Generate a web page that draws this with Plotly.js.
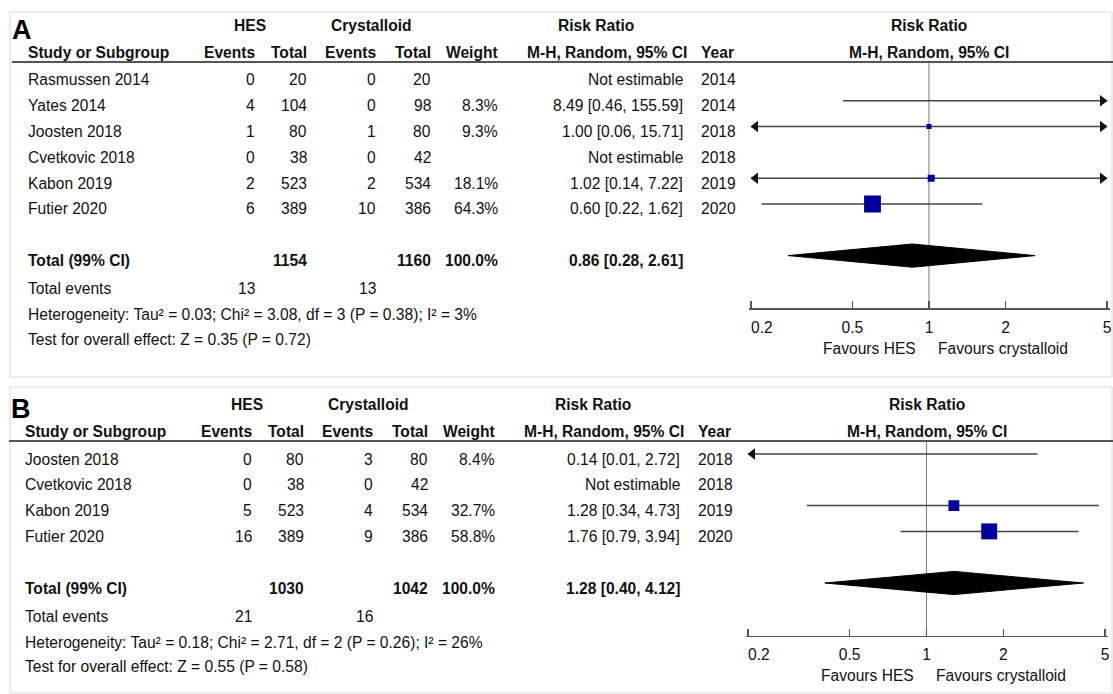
<!DOCTYPE html>
<html>
<head>
<meta charset="utf-8">
<script src="https://cdn.plot.ly/plotly-3.0.1.min.js"></script>
<style>html,body{margin:0;padding:0;background:#fff}#chart{width:1113px;height:694px}</style>
</head>
<body>
<div id="chart"></div>
<script>
// ================= DATA =================
// Panel A
const studiesA   = ['Rasmussen 2014','Yates 2014','Joosten 2018','Cvetkovic 2018','Kabon 2019','Futier 2020'];
const hesEventsA = [0, 4, 1, 0, 2, 6];
const hesTotalA  = [20, 104, 80, 38, 523, 389];
const cryEventsA = [0, 0, 1, 0, 2, 10];
const cryTotalA  = [20, 98, 80, 42, 534, 386];
const weightA    = [null, 8.3, 9.3, null, 18.1, 64.3];
const rrA        = [null, 8.49, 1.00, null, 1.02, 0.60];
const loA        = [null, 0.46, 0.06, null, 0.14, 0.22];
const hiA        = [null, 155.59, 15.71, null, 7.22, 1.62];
const yearA      = [2014, 2014, 2018, 2018, 2019, 2020];
const totalsA    = [1154, 1160, 100.0];          // HES total, crystalloid total, weight
const pooledA    = [0.86, 0.28, 2.61];           // RR, lower, upper
const eventsA    = [13, 13];                     // total events HES, crystalloid
const hetA       = 'Heterogeneity: Tau² = 0.03; Chi² = 3.08, df = 3 (P = 0.38); I² = 3%';
const testA      = 'Test for overall effect: Z = 0.35 (P = 0.72)';

// Panel B
const studiesB   = ['Joosten 2018','Cvetkovic 2018','Kabon 2019','Futier 2020'];
const hesEventsB = [0, 0, 5, 16];
const hesTotalB  = [80, 38, 523, 389];
const cryEventsB = [3, 0, 4, 9];
const cryTotalB  = [80, 42, 534, 386];
const weightB    = [8.4, null, 32.7, 58.8];
const rrB        = [0.14, null, 1.28, 1.76];
const loB        = [0.01, null, 0.34, 0.79];
const hiB        = [2.72, null, 4.73, 3.94];
const yearB      = [2018, 2018, 2019, 2020];
const totalsB    = [1030, 1042, 100.0];
const pooledB    = [1.28, 0.40, 4.12];
const eventsB    = [21, 16];
const hetB       = 'Heterogeneity: Tau² = 0.18; Chi² = 2.71, df = 2 (P = 0.26); I² = 26%';
const testB      = 'Test for overall effect: Z = 0.55 (P = 0.58)';

// Labels
const groupLabels  = ['HES', 'Crystalloid'];
const colHeaders   = ['Study or Subgroup','Events','Total','Events','Total','Weight','M-H, Random, 95% CI','Year'];
const rrTitle      = 'Risk Ratio';
const rrSubtitle   = 'M-H, Random, 95% CI';
const totalLabel   = 'Total (99% CI)';
const eventsLabel  = 'Total events';
const favourLabels = ['Favours HES', 'Favours crystalloid'];
const tickVals     = [0.2, 0.5, 1, 2, 5];
const tickText     = ['0.2', '0.5', '1', '2', '5'];

// ================= LAYOUT CONSTANTS =================
const W = 1113, H = 694, ROW = 25.8, TXT_SHIFT = -5;
const FONT = 'Arial, "Liberation Sans", sans-serif';
const FS = 15.6, TC = '#111';
const COL = {name:27, hesEv:256, hesTot:308, cryEv:377, cryTot:432, weight:499, rr:684, rrHead:688, year:700,
             hesGroup:250, cryGroup:371, rrGroup:596};
const END_PAD = 2.5;   // px of axis beyond the outer ticks

const panels = [
  {letter:'A', xa:'x', ya:'y', xk:'xaxis', yk:'yaxis', top:12, bottom:377, row0:75, dx:0, plotL:751, plotR:1107,
   studies:studiesA, hesEv:hesEventsA, hesTot:hesTotalA, cryEv:cryEventsA, cryTot:cryTotalA, w:weightA,
   rr:rrA, lo:loA, hi:hiA, year:yearA, totals:totalsA, pooled:pooledA, events:eventsA, het:hetA, test:testA},
  {letter:'B', xa:'x2', ya:'y2', xk:'xaxis2', yk:'yaxis2', top:387, bottom:693, row0:454, dx:-3, plotL:748, plotR:1105,
   studies:studiesB, hesEv:hesEventsB, hesTot:hesTotalB, cryEv:cryEventsB, cryTot:cryTotalB, w:weightB,
   rr:rrB, lo:loB, hi:hiB, year:yearB, totals:totalsB, pooled:pooledB, events:eventsB, het:hetB, test:testB}
];

const fmt2 = v => v.toFixed(2);
const xMin = tickVals[0], xMax = tickVals[tickVals.length - 1];
const nb = k => '\u00a0'.repeat(k);
const tickTextPadded = tickText.map((t, i) => i === 0 ? nb(5) + t : t);

const traces = [];
const annotations = [];
const shapes = [];
const layout = {
  width: W, height: H, margin: {l:0, r:0, t:0, b:0, pad:0},
  paper_bgcolor: '#fff', plot_bgcolor: 'rgba(0,0,0,0)', showlegend: false,
  font: {family: FONT, size: FS, color: TC}
};

panels.forEach(p => {
  const n = p.studies.length;
  const rTop = (p.top - p.row0) / ROW;
  const rBot = (p.bottom - p.row0) / ROW;
  const axisRow = n + 3.05;
  const axisPaper = 1 - (p.row0 + axisRow * ROW) / H;
  const totalRow = n + 1;
  const pxPerDecade = (p.plotR - p.plotL) / (Math.log10(xMax) - Math.log10(xMin));
  const padDec = END_PAD / pxPerDecade;
  const arrowFactor = Math.pow(10, 4.5 / pxPerDecade);

  layout[p.xk] = {
    type: 'log', domain: [(p.plotL - END_PAD) / W, (p.plotR + END_PAD) / W],
    range: [Math.log10(xMin) - padDec, Math.log10(xMax) + padDec],
    anchor: 'free', position: axisPaper,
    tickvals: tickVals, ticktext: tickTextPadded, ticks: 'inside', ticklen: 7, tickwidth: 1.3, tickcolor: '#555',
    showline: true, linecolor: '#555', linewidth: 1.5, showgrid: false, zeroline: false,
    ticklabeloverflow: 'allow',
    tickfont: {family: FONT, size: FS, color: TC}, ticklabelstandoff: 4, fixedrange: true
  };
  layout[p.yk] = {domain: [1 - p.bottom / H, 1 - p.top / H], range: [rBot, rTop], visible: false,
                  showgrid: false, zeroline: false, fixedrange: true, anchor: p.xa};

  // panel frame
  shapes.push({type:'rect', xref:'paper', yref:'paper', x0: 10 / W, x1: 1112 / W,
               y0: 1 - p.bottom / H, y1: 1 - p.top / H, line:{color:'#dedede', width:1.2}, layer:'below'});
  // header underline
  shapes.push({type:'line', xref:'paper', yref:p.ya, x0: (12 + p.dx) / W, x1: 1, y0: -0.5, y1: -0.5,
               line:{color:'#555', width:2}});

  // reference line at RR = 1
  traces.push({type:'scatter', mode:'lines', x:[1, 1], y:[-0.5, axisRow], xaxis:p.xa, yaxis:p.ya,
               line:{color:'#808080', width:1.1}, hoverinfo:'skip'});

  // CI lines (clipped to the tick range; arrows mark the overflow)
  const cx = [], cy = [];
  p.lo.forEach((lo, i) => {
    if (lo !== null) { cx.push(Math.max(lo, xMin), Math.min(p.hi[i], xMax), null); cy.push(i, i, null); }
  });
  traces.push({type:'scatter', mode:'lines', x:cx, y:cy, xaxis:p.xa, yaxis:p.ya,
               line:{color:'#444', width:1.5}, hoverinfo:'skip'});

  // arrow heads for CIs beyond the axis
  const ax = [], ay = [], as = [];
  p.lo.forEach((lo, i) => {
    if (lo === null) return;
    if (lo < xMin) { ax.push(xMin * arrowFactor); ay.push(i); as.push('triangle-left'); }
    if (p.hi[i] > xMax) { ax.push(xMax / arrowFactor); ay.push(i); as.push('triangle-right'); }
  });
  traces.push({type:'scatter', mode:'markers', x:ax, y:ay, xaxis:p.xa, yaxis:p.ya, cliponaxis:false,
               marker:{symbol:as, size:10, color:'#111', opacity:1, line:{width:0}}, hoverinfo:'skip'});

  // squares
  const sx = [], sy = [], ss = [];
  p.rr.forEach((v, i) => { if (v !== null) { sx.push(v); sy.push(i); ss.push(Math.max(5, 2.6 * Math.sqrt(p.w[i]) - 4)); } });
  traces.push({type:'scatter', mode:'markers', x:sx, y:sy, xaxis:p.xa, yaxis:p.ya,
               marker:{symbol:'square', size:ss, color:'#00009c', opacity:1, line:{width:0}}, hoverinfo:'skip'});

  // pooled diamond
  const [est, plo, phi] = p.pooled;
  const h = 0.45;
  traces.push({type:'scatter', mode:'lines', x:[plo, est, phi, est, plo], y:[totalRow, totalRow - h, totalRow, totalRow + h, totalRow],
               xaxis:p.xa, yaxis:p.ya, fill:'toself', fillcolor:'#000', line:{color:'#000', width:1}, hoverinfo:'skip'});

  // ---------- table text ----------
  const T = (xpx, r, text, xanchor, extra) => annotations.push(Object.assign({
    xref:'paper', yref:p.ya, x:(xpx + p.dx) / W, y:r, text:text, xanchor:xanchor, yanchor:'middle',
    showarrow:false, yshift:TXT_SHIFT, borderpad:0, font:{family:FONT, size:FS, color:TC}}, extra || {}));
  const b = s => '<b>' + s + '</b>';

  // panel letter
  annotations.push({xref:'paper', yref:p.ya, x:(11 + p.dx * 0.3) / W, y:-1.75, text:'<b>' + p.letter + '</b>',
                    xanchor:'left', yanchor:'middle', showarrow:false, borderpad:0,
                    font:{family:FONT, size:27, color:'#000'}});
  // group headers
  const gRow = -2.1, hRow = -1.05;
  T(COL.hesGroup, gRow, b(groupLabels[0]), 'center');
  T(COL.cryGroup, gRow, b(groupLabels[1]), 'center');
  T(COL.rrGroup, gRow, b(rrTitle), 'center');
  // column headers
  T(COL.name, hRow, b(colHeaders[0]), 'left');
  T(COL.hesEv, hRow, b(colHeaders[1]), 'right');
  T(COL.hesTot, hRow, b(colHeaders[2]), 'right');
  T(COL.cryEv, hRow, b(colHeaders[3]), 'right');
  T(COL.cryTot, hRow, b(colHeaders[4]), 'right');
  T(COL.weight, hRow, b(colHeaders[5]), 'right');
  T(COL.rrHead, hRow, b(colHeaders[6]), 'right');
  T(COL.year, hRow, b(colHeaders[7]), 'left');
  // plot headers (centered over plot)
  const plotMid = (p.plotL + p.plotR) / 2 - p.dx;
  T(plotMid, gRow, b(rrTitle), 'center');
  T(plotMid, hRow, b(rrSubtitle), 'center');

  // study rows
  p.studies.forEach((s, i) => {
    T(COL.name, i, s, 'left');
    T(COL.hesEv, i, String(p.hesEv[i]), 'right');
    T(COL.hesTot, i, String(p.hesTot[i]), 'right');
    T(COL.cryEv, i, String(p.cryEv[i]), 'right');
    T(COL.cryTot, i, String(p.cryTot[i]), 'right');
    if (p.w[i] !== null) T(COL.weight, i, p.w[i].toFixed(1) + '%', 'right');
    const rrText = p.rr[i] === null ? 'Not estimable' : fmt2(p.rr[i]) + ' [' + fmt2(p.lo[i]) + ', ' + fmt2(p.hi[i]) + ']';
    T(COL.rr, i, rrText, 'right');
    T(COL.year, i, String(p.year[i]), 'left');
  });

  // total row
  T(COL.name, totalRow, b(totalLabel), 'left');
  T(COL.hesTot, totalRow, b(String(p.totals[0])), 'right');
  T(COL.cryTot, totalRow, b(String(p.totals[1])), 'right');
  T(COL.weight, totalRow, b(p.totals[2].toFixed(1) + '%'), 'right');
  T(COL.rr, totalRow, b(fmt2(est) + ' [' + fmt2(plo) + ', ' + fmt2(phi) + ']'), 'right');
  // total events
  T(COL.name, n + 2.1, eventsLabel, 'left');
  T(COL.hesEv, n + 2.1, String(p.events[0]), 'right');
  T(COL.cryEv, n + 2.1, String(p.events[1]), 'right');
  // heterogeneity & test
  T(COL.name, n + 3.1, p.het, 'left');
  T(COL.name, n + 4.05, p.test, 'left');

  // favours labels
  annotations.push({xref:p.xa, yref:p.ya, x:0, y:n + 4.4, text:favourLabels[0], xanchor:'right', yanchor:'middle',
                    xshift:-12, yshift:TXT_SHIFT, showarrow:false, borderpad:0, font:{family:FONT, size:FS, color:TC}});
  annotations.push({xref:p.xa, yref:p.ya, x:0, y:n + 4.4, text:favourLabels[1], xanchor:'left', yanchor:'middle',
                    xshift:8, yshift:TXT_SHIFT, showarrow:false, borderpad:0, font:{family:FONT, size:FS, color:TC}});
});

layout.annotations = annotations;
layout.shapes = shapes;

Plotly.newPlot('chart', traces, layout, {staticPlot:true, displayModeBar:false});
</script>
</body>
</html>
